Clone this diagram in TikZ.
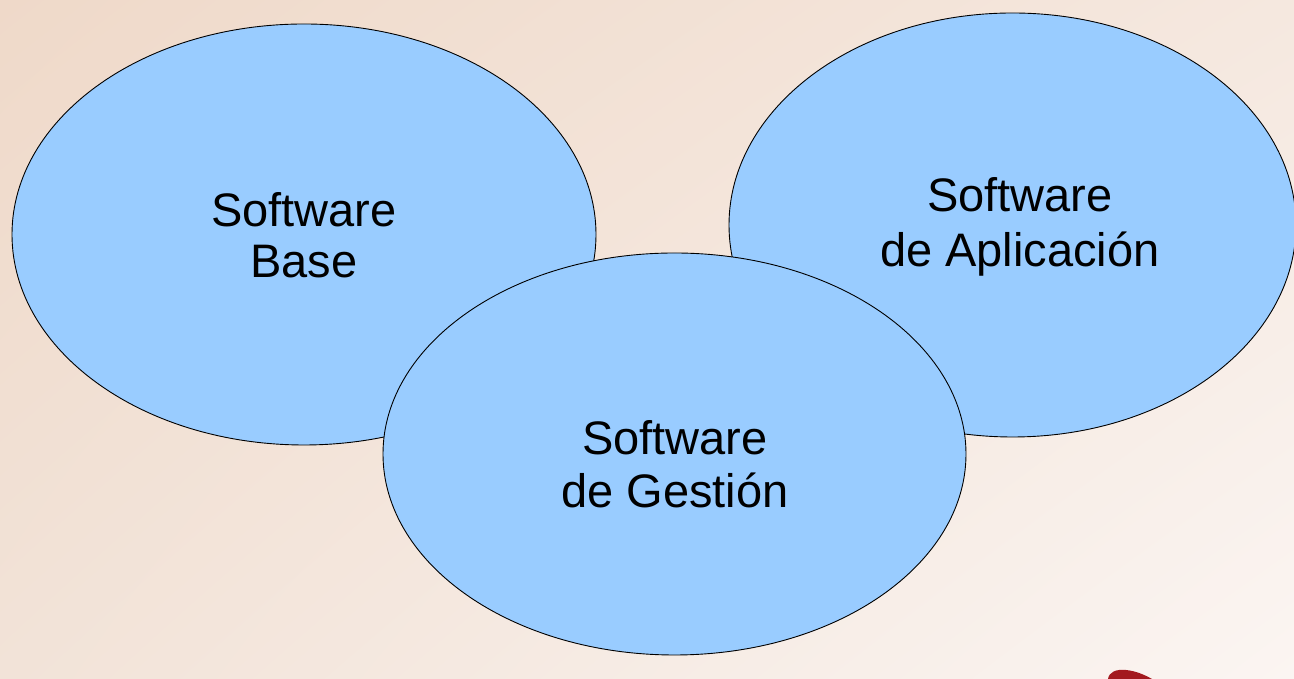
\documentclass[tikz,border=0pt]{standalone}
\usepackage{fontspec}
\setmainfont{Liberation Sans}
\usetikzlibrary{shapes.geometric,shadings}
\definecolor{bgUL}{HTML}{EFD9C9}
\definecolor{bgUR}{HTML}{F5E8DF}
\definecolor{bgLL}{HTML}{F2E3D8}
\definecolor{bgLR}{HTML}{FBF5F2}
\definecolor{ovalfill}{HTML}{99CCFF}
\definecolor{logored}{HTML}{A31A1F}
\begin{document}
\begin{tikzpicture}[x=1pt,y=1pt,
  oval/.style={ellipse, draw=black, line width=0.9pt, fill=ovalfill, inner sep=0pt},
  lbl/.style={font=\fontsize{47}{52}\selectfont, text=black, inner sep=0pt, anchor=base}]
\useasboundingbox (0,0) rectangle (1294,679);
\shade[upper left=bgUL, upper right=bgUR, lower left=bgLL, lower right=bgLR] (0,0) rectangle (1294,679);
\fill[logored] (1108,0) .. controls (1109,7) and (1116,10) .. (1126,9) .. controls (1136,8) and (1145,4) .. (1152,0) -- cycle;
\node[oval, minimum width=584pt, minimum height=421pt] (base) at (304,444.5) {};
\node[oval, minimum width=567pt, minimum height=424pt] (apl) at (1012.5,454) {};
\node[oval, minimum width=583pt, minimum height=402pt] (ges) at (674.5,225) {};
\node[lbl] (baseA) at (304,452) {Software};
\node[lbl] (baseB) at (304,401) {Base};
\node[lbl] (aplA) at (1020,467) {Software};
\node[lbl] (aplB) at (1020,412) {de Aplicación};
\node[lbl] (gesA) at (675,224) {Software};
\node[lbl] (gesB) at (675,171) {de Gestión};
\end{tikzpicture}
\end{document}
